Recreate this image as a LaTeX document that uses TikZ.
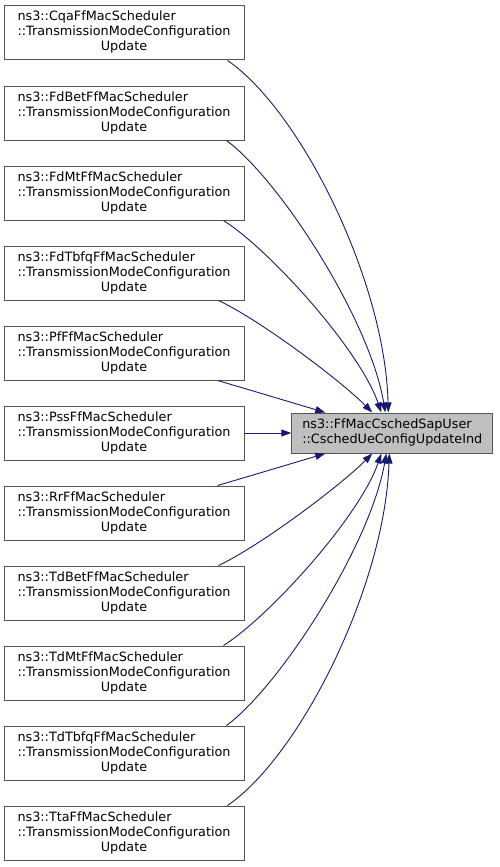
\documentclass[tikz,border=0pt]{standalone}
\usepackage{fontspec}
\setmainfont{DejaVu Sans}
\usetikzlibrary{arrows.meta}
\definecolor{edgec}{HTML}{191970}
\definecolor{bord}{HTML}{555555}
\definecolor{tfill}{HTML}{BFBFBF}
\newcommand{\fnlabel}[1]{\begin{tabular}{@{}l@{}}ns3::#1\\::TransmissionModeConfiguration\\\multicolumn{1}{@{}c@{}}{Update}\end{tabular}}
\begin{document}
\begin{tikzpicture}[x=1pt,y=-1pt,
  fbox/.style={draw=bord, line width=1pt, fill=white, minimum width=240pt, minimum height=54pt, inner sep=0pt, font=\fontsize{12.8}{15}\selectfont},
  tbox/.style={draw=bord, line width=1pt, fill=tfill, minimum width=201pt, minimum height=40pt, inner sep=0pt, font=\fontsize{12.8}{15}\selectfont},
  edge/.style={draw=edgec, line width=0.9pt, -{Triangle[length=10pt,width=7pt]}}]
\useasboundingbox (0,0) rectangle (500,867);
\node[fbox] (b1) at (124,33) {\fnlabel{CqaFfMacScheduler}};
\node[fbox] (b2) at (124,113) {\fnlabel{FdBetFfMacScheduler}};
\node[fbox] (b3) at (124,193) {\fnlabel{FdMtFfMacScheduler}};
\node[fbox] (b4) at (124,273) {\fnlabel{FdTbfqFfMacScheduler}};
\node[fbox] (b5) at (124,353) {\fnlabel{PfFfMacScheduler}};
\node[fbox] (b6) at (124,433) {\fnlabel{PssFfMacScheduler}};
\node[fbox] (b7) at (124,513) {\fnlabel{RrFfMacScheduler}};
\node[fbox] (b8) at (124,593) {\fnlabel{TdBetFfMacScheduler}};
\node[fbox] (b9) at (124,673) {\fnlabel{TdMtFfMacScheduler}};
\node[fbox] (b10) at (124,753) {\fnlabel{TdTbfqFfMacScheduler}};
\node[fbox] (b11) at (124,833) {\fnlabel{TtaFfMacScheduler}};
\node[tbox] (t) at (392.3,433) {\begin{tabular}{@{}l@{}}ns3::FfMacCschedSapUser\\::CschedUeConfigUpdateInd\end{tabular}};
\draw[edge] ([xshift=-17pt]b1.south east) .. controls (300,110) and (385,280) .. ([xshift=-4pt]t.north);
\draw[edge] ([xshift=-18pt]b2.south east) .. controls (280,180) and (370,320) .. ([xshift=-7pt]t.north);
\draw[edge] ([xshift=-21pt]b3.south east) .. controls (270,250) and (360,350) .. ([xshift=-11pt]t.north);
\draw[edge] ([xshift=-26pt]b4.south east) .. controls (260,320) and (340,380) .. ([xshift=-20pt]t.north);
\draw[edge] ([xshift=-27pt]b5.south east) .. controls (250,390) and (300,405) .. ([xshift=-67pt]t.north);
\draw[edge] (b6.east) -- (t.west);
\draw[edge] ([xshift=-27pt]b7.north east) .. controls (250,476) and (300,461) .. ([xshift=-67pt]t.south);
\draw[edge] ([xshift=-26pt]b8.north east) .. controls (260,546) and (340,486) .. ([xshift=-20pt]t.south);
\draw[edge] ([xshift=-21pt]b9.north east) .. controls (270,616) and (360,516) .. ([xshift=-11pt]t.south);
\draw[edge] ([xshift=-18pt]b10.north east) .. controls (280,686) and (370,546) .. ([xshift=-6pt]t.south);
\draw[edge] ([xshift=-17pt]b11.north east) .. controls (300,756) and (385,586) .. ([xshift=-3pt]t.south);
\end{tikzpicture}
\end{document}
